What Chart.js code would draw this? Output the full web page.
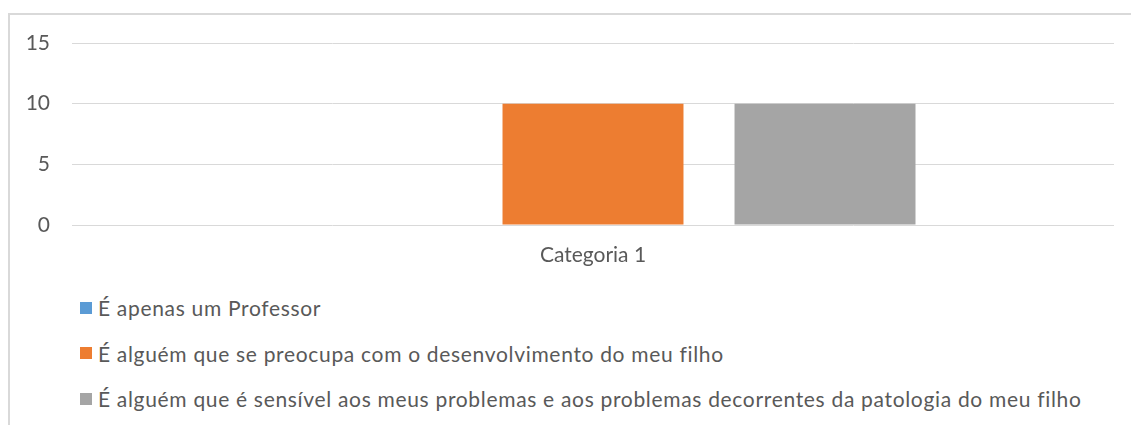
<!DOCTYPE html>
<html>
<head>
<meta charset="utf-8">
<script src="https://cdn.jsdelivr.net/npm/chart.js@4"></script>
<style>
  body { margin: 0; background: #fff; }
  #wrap { position: relative; width: 1131px; height: 425px; overflow: hidden; }
  #frame { position: absolute; left: 8px; top: 13px; width: 1200px; height: 500px;
           border-left: 2px solid #d9d9d9; border-top: 2px solid #d9d9d9; }
  #box { position: absolute; left: 0; top: 0; width: 1131px; height: 280px; }
  #legend { position: absolute; left: 80px; top: 285px; font-family: Lato, sans-serif;
            font-size: 21px; letter-spacing: 0.68px; color: #595959; }
  #legend div { height: 45.5px; display: flex; align-items: center; white-space: nowrap; }
  #legend span.sw { display: inline-block; width: 12px; height: 12px; margin-right: 6px; }
</style>
</head>
<body>
<div id="wrap">
  <div id="frame"></div>
  <div id="box"><canvas id="c"></canvas></div>
  <div id="legend"></div>
</div>
<script>
const categories = ['Categoria 1'];
const seriesNames = [
  'É apenas um Professor',
  'É alguém que se preocupa com o desenvolvimento do meu filho',
  'É alguém que é sensível aos meus problemas e aos problemas decorrentes da patologia do meu filho'
];
const seriesValues = [
  [0],
  [10],
  [10]
];
const seriesColors = ['#5b9bd5', '#ed7d31', '#a5a5a5'];
const yTicks = [0, 5, 10, 15];

const htmlLegend = {
  id: 'htmlLegend',
  afterUpdate(chart) {
    const el = document.getElementById('legend');
    el.innerHTML = '';
    chart.options.plugins.legend.labels.generateLabels(chart).forEach(item => {
      const row = document.createElement('div');
      const sw = document.createElement('span');
      sw.className = 'sw';
      sw.style.background = item.fillStyle;
      row.appendChild(sw);
      row.appendChild(document.createTextNode(item.text));
      el.appendChild(row);
    });
  }
};

new Chart(document.getElementById('c'), {
  type: 'bar',
  data: {
    labels: categories,
    datasets: seriesNames.map((name, i) => ({
      label: name,
      data: seriesValues[i],
      backgroundColor: seriesColors[i],
      barPercentage: 0.78,
      categoryPercentage: 0.668
    }))
  },
  options: {
    responsive: true,
    maintainAspectRatio: false,
    animation: false,
    layout: { padding: { top: 43, right: 17, bottom: 10, left: 0 } },
    plugins: {
      legend: { display: false },
      tooltip: { enabled: false }
    },
    scales: {
      x: {
        grid: { display: false, drawTicks: false },
        border: { display: false },
        ticks: { color: '#595959', font: { family: 'Lato', size: 21 }, padding: 18 },
        afterFit(scale) { scale.height = 45; }
      },
      y: {
        min: yTicks[0],
        max: yTicks[yTicks.length - 1],
        afterBuildTicks(scale) { scale.ticks = yTicks.map(v => ({ value: v })); },
        grid: { color: '#d9d9d9', drawTicks: false },
        border: { display: false },
        ticks: { color: '#595959', font: { family: 'Lato', size: 21 }, padding: 22 },
        afterFit(scale) { scale.width = 72; }
      }
    }
  },
  plugins: [htmlLegend]
});
</script>
</body>
</html>
